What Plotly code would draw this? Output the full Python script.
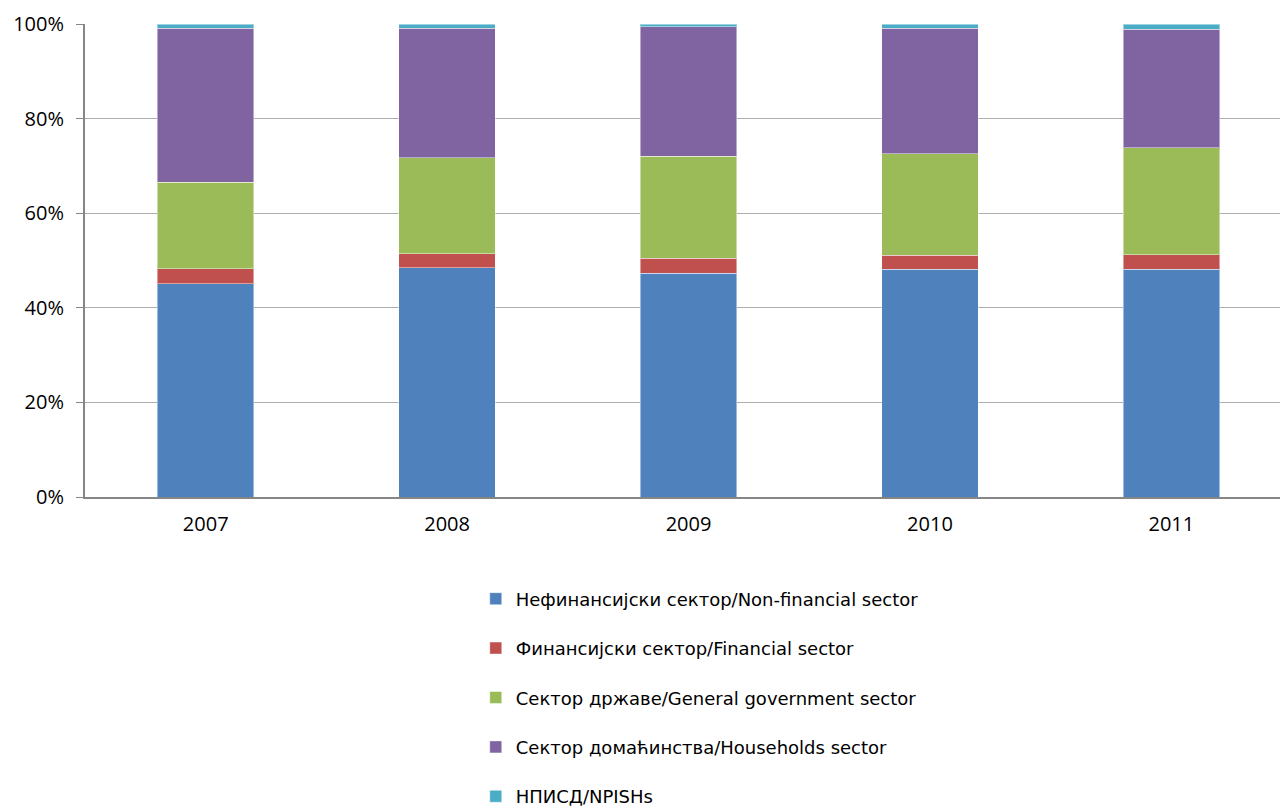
import plotly.graph_objects as go

years = ["2007", "2008", "2009", "2010", "2011"]
series_names = [
    "Нефинансијски сектор/Non-financial sector",
    "Финансијски сектор/Financial sector",
    "Сектор државе/General government sector",
    "Сектор домаћинства/Households sector",
    "НПИСД/NPISHs",
]
non_financial = [45.1, 48.5, 47.3, 48.1, 48.1]
financial = [3.15, 2.9, 3.2, 3.0, 3.1]
government = [18.25, 20.3, 21.55, 21.5, 22.6]
households = [32.65, 27.45, 27.35, 26.55, 25.1]
npish = [0.85, 0.85, 0.6, 0.85, 1.1]
y_ticks = [0, 20, 40, 60, 80, 100]
y_tick_labels = ["0%", "20%", "40%", "60%", "80%", "100%"]

colors = ["#4F81BD", "#C0504D", "#9BBB59", "#8064A2", "#4BACC6"]
values = [non_financial, financial, government, households, npish]

fig = go.Figure()
for i, (name, vals, col) in enumerate(zip(series_names, values, colors)):
    fig.add_trace(go.Bar(
        x=years, y=vals, name=name, legendgroup=f"g{i}",
        marker=dict(color=col, line=dict(color="rgba(255,255,255,0.45)", width=1)),
    ))

fig.update_layout(
    barmode="stack",
    bargap=0.6,
    width=1280, height=807,
    margin=dict(l=85, r=0, t=24, b=310, pad=0, autoexpand=False),
    paper_bgcolor="white",
    plot_bgcolor="white",
    font=dict(family="Open Sans", size=20, color="#000000"),
    showlegend=True,
    legend=dict(
        orientation="v",
        x=0.327, xanchor="left",
        yref="container", y=0.2807, yanchor="top",
        font=dict(family="DejaVu Sans", size=18, color="#000000"),
        tracegroupgap=23,
        traceorder="grouped",
        bgcolor="rgba(0,0,0,0)",
    ),
    xaxis=dict(
        type="category",
        range=[-0.5, 4.45],
        showline=True, linecolor="#868686", linewidth=2,
        ticks="", showgrid=False,
        tickfont=dict(family="Open Sans", size=20),
        ticklabelstandoff=8,
    ),
    yaxis=dict(
        range=[0, 100],
        tickvals=y_ticks, ticktext=y_tick_labels,
        showline=True, linecolor="#868686", linewidth=2,
        ticks="outside", ticklen=7, tickcolor="#868686", tickwidth=1,
        showgrid=True, gridcolor="#ADADAD", gridwidth=1,
        zeroline=False,
        tickfont=dict(family="Open Sans", size=20),
        ticklabelstandoff=8,
    ),
)

fig.write_html("out.html")
